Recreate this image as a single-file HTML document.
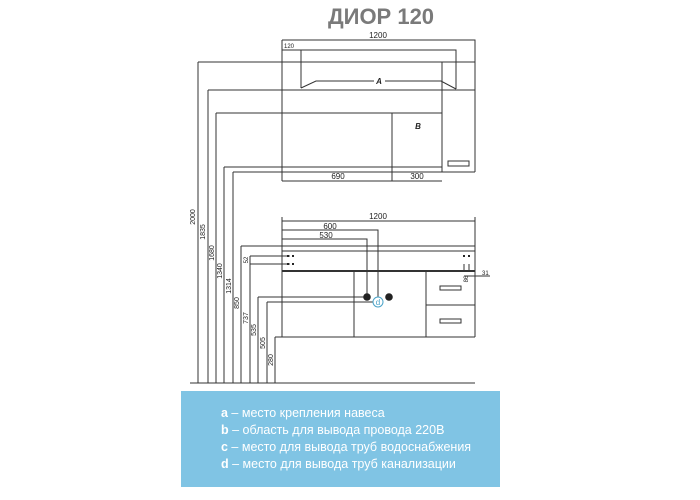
<!DOCTYPE html>
<html><head><meta charset="utf-8"><style>
html,body{margin:0;padding:0;background:#fff;}
svg{display:block}
text{font-family:"Liberation Sans Narrow","Liberation Sans",sans-serif;fill:#222;}
</style></head><body>
<svg width="700" height="500" viewBox="0 0 700 500" xmlns="http://www.w3.org/2000/svg">
<text x="381" y="24" text-anchor="middle" font-size="22" font-weight="bold" style="fill:#7a7a7a;font-family:'Liberation Sans',sans-serif">ДИОР 120</text>
<g stroke="#333" stroke-width="1" fill="none">
<path d="M282 40H475V172M282 40V181M282 50H456V89M301 50V88M198 62H475M442 62V172M208 90H475M216 113H442M392 113V181M224 167H442M233 172H475M282 181H442"/>
<path d="M301 88L316 81H374M385 81H441L456 89"/>
<rect x="448" y="161" width="21" height="5"/>
<path d="M198 62V383M208 90V383M216 113V383M224 167V383M233 172V383M241 246V383M250 256V383M258 297V383M267 302V383M275 337V383M190 383H475"/>
<path d="M282 217V337M475 217V337M282 221H475M282 230H378V300M282 239H367V297M241 246H475M282 251H475M250 256H290M250 264H290M282 337H475M354 271V337M426 271V337M426 305H475M275 337H282M258 297H367M267 302H374"/>
<path d="M282 271H475" stroke-width="2"/>
<rect x="440" y="286" width="21" height="4"/>
<rect x="440" y="319" width="21" height="4"/>
<path d="M464 264V272M469 264V272M464 276H490"/>
</g>
<g fill="#222">
<rect x="287" y="255" width="2" height="2"/><rect x="292" y="255" width="2" height="2"/>
<rect x="287" y="263" width="2" height="2"/><rect x="292" y="263" width="2" height="2"/>
<rect x="463" y="255" width="2" height="2"/><rect x="468" y="255" width="2" height="2"/>
<circle cx="367" cy="297" r="3.8"/><circle cx="389" cy="297" r="3.8"/>
</g>
<circle cx="378" cy="302" r="5" fill="#fff" stroke="#4aa3c8" stroke-width="1"/>
<text x="378" y="305" font-size="8" text-anchor="middle" style="fill:#4aa3c8">d</text>
<g font-size="8">
<text x="378" y="38" text-anchor="middle">1200</text>
<text x="284" y="48" font-size="6">120</text>
<text x="379" y="84" text-anchor="middle" font-style="italic" font-weight="bold">A</text>
<text x="418" y="129" text-anchor="middle" font-style="italic" font-weight="bold">B</text>
<text x="338" y="179" text-anchor="middle">690</text>
<text x="417" y="179" text-anchor="middle">300</text>
<text x="378" y="219" text-anchor="middle">1200</text>
<text x="330" y="229" text-anchor="middle">600</text>
<text x="326" y="238" text-anchor="middle">530</text>
<text x="482" y="275" font-size="6">31</text>
<g font-size="7" text-anchor="middle">
<text transform="translate(195,217) rotate(-90)">2000</text>
<text transform="translate(205,232) rotate(-90)">1835</text>
<text transform="translate(214,253) rotate(-90)">1680</text>
<text transform="translate(222,271) rotate(-90)">1340</text>
<text transform="translate(231,286) rotate(-90)">1314</text>
<text transform="translate(239,303) rotate(-90)">850</text>
<text transform="translate(248,260) rotate(-90)" font-size="6">52</text>
<text transform="translate(248,318) rotate(-90)">737</text>
<text transform="translate(256,330) rotate(-90)">535</text>
<text transform="translate(265,343) rotate(-90)">505</text>
<text transform="translate(273,360) rotate(-90)">280</text>
<text transform="translate(468,279) rotate(-90)" font-size="6">86</text>
</g>
</g>
<rect x="181" y="391" width="319" height="96" fill="#80c4e4"/>
<g font-size="12.5" style="font-family:'Liberation Sans',sans-serif">
<text x="221" y="417" style="fill:#fff"><tspan font-weight="bold" style="fill:#fff">a</tspan> – место крепления навеса</text>
<text x="221" y="434" style="fill:#fff"><tspan font-weight="bold" style="fill:#fff">b</tspan> – область для вывода провода 220В</text>
<text x="221" y="451" style="fill:#fff"><tspan font-weight="bold" style="fill:#fff">c</tspan> – место для вывода труб водоснабжения</text>
<text x="221" y="468" style="fill:#fff"><tspan font-weight="bold" style="fill:#fff">d</tspan> – место для вывода труб канализации</text>
</g>
</svg>
</body></html>
